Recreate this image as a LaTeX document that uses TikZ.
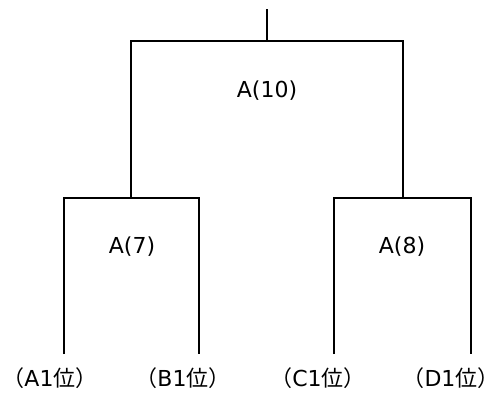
\documentclass[tikz,border=0pt]{standalone}
\usepackage{fontspec}
\setmainfont{DejaVu Sans}
\newfontfamily\jpfont{Noto Sans CJK JP}
\newcommand{\rank}[1]{{\jpfont（}#11{\jpfont 位）}}
\begin{document}
\begin{tikzpicture}[x=1pt,y=1pt,line width=2pt,
  lbl/.style={inner sep=0pt, font=\fontsize{22}{26}\selectfont}]
\useasboundingbox (0,0) rectangle (500,392);
\coordinate (top) at (267,383);
\coordinate (fin) at (267,351);
\coordinate (semiL) at (131,194);
\coordinate (semiR) at (403,194);
\coordinate (a1) at (64,38);
\coordinate (b1) at (199,38);
\coordinate (c1) at (334,38);
\coordinate (d1) at (471,38);
\draw (fin) -- (top);
\draw (semiL) |- (fin) -| (semiR);
\draw (a1) |- (semiL) -| (b1);
\draw (c1) |- (semiR) -| (d1);
\node [lbl] (score10) at (267,301) {A(10)};
\node [lbl] (score7) at (132,145) {A(7)};
\node [lbl] (score8) at (402,145) {A(8)};
\node [lbl] (teamA) at (50,14) {\rank{A}};
\node [lbl] (teamB) at (183,14) {\rank{B}};
\node [lbl] (teamC) at (318,14) {\rank{C}};
\node [lbl] (teamD) at (451,14) {\rank{D}};
\end{tikzpicture}
\end{document}
